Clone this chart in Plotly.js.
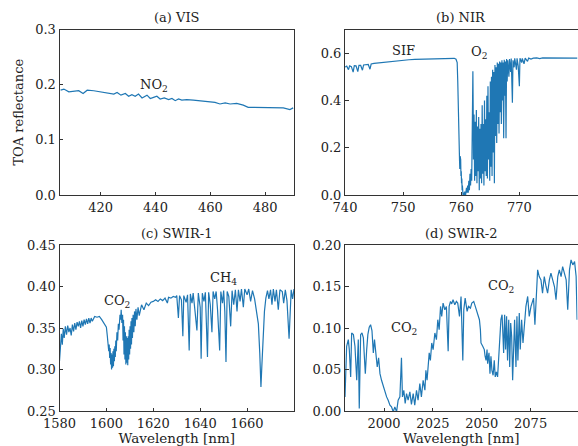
<!DOCTYPE html>
<html>
<head>
<meta charset="utf-8">
<script src="https://cdn.plot.ly/plotly-3.0.1.min.js"></script>
<style>html,body{margin:0;padding:0;background:#fff;}#chart{width:578px;height:446px;}</style>
</head>
<body>
<div id="chart"></div>
<script>
// ---------- data ----------
const visWl = [405.4,406.6,408.4,410.2,412.0,413.6,415.1,417.5,419.9,422.3,424.8,426.0,427.4,429.0,430.2,431.4,432.6,433.8,435.1,436.9,438.1,439.3,440.5,441.7,443.2,444.8,446.0,447.2,448.4,449.6,451.4,453.8,456.3,458.1,459.9,461.7,463.5,465.4,467.2,469.6,472.0,473.8,475.7,478.1,479.9,481.7,484.2,486.6,489.0,490.2];
const visR  = [0.190,0.192,0.187,0.188,0.189,0.184,0.190,0.189,0.187,0.185,0.183,0.186,0.181,0.184,0.179,0.182,0.179,0.183,0.176,0.181,0.175,0.177,0.179,0.174,0.176,0.173,0.175,0.171,0.174,0.172,0.173,0.172,0.171,0.170,0.169,0.168,0.165,0.167,0.165,0.166,0.163,0.159,0.159,0.159,0.158,0.159,0.159,0.158,0.155,0.158];

const nirWl = [740.0,740.3,740.6,740.8,741.1,741.4,741.6,741.9,742.2,742.4,742.7,743.0,743.2,743.6,744.0,744.3,744.5,745,746,747,748,749,750,751,752,753,754,755,756,757,758,758.8,759.1,759.3,759.4,759.5,759.6,759.7,759.75,759.8,759.85,759.9,759.95,760.0,760.05,760.1,760.15,760.2,760.3,760.4,760.5,760.6,760.7,760.8,760.9,761.0,761.1,761.2,761.3,761.4,761.5,761.6,761.7,761.8,761.9,762.0,762.05,762.1,762.2,762.3,762.4,762.5,762.6,762.7,762.8,762.9,763.0,763.1,763.2,763.3,763.4,763.5,763.6,763.7,763.8,763.9,764.0,764.1,764.2,764.3,764.4,764.5,764.6,764.7,764.8,764.9,765.0,765.1,765.2,765.3,765.4,765.5,765.6,765.7,765.8,765.9,766.0,766.1,766.2,766.3,766.4,766.5,766.6,766.7,766.8,766.9,767.0,767.1,767.2,767.3,767.4,767.5,767.6,767.7,767.8,767.9,768.0,768.2,768.3,768.5,768.6,768.8,768.9,769.1,769.2,769.5,769.6,769.8,770.0,770.1,770.4,770.5,770.8,771.0,771.4,771.6,772.0,772.4,773.0,773.5,774,775,776,777,778,779,780];
const nirR  = [0.541,0.545,0.530,0.546,0.543,0.520,0.547,0.546,0.522,0.548,0.548,0.528,0.550,0.551,0.552,0.532,0.554,0.557,0.560,0.563,0.566,0.568,0.570,0.572,0.574,0.575,0.576,0.577,0.578,0.578,0.579,0.578,0.574,0.560,0.480,0.300,0.170,0.150,0.110,0.165,0.120,0.150,0.080,0.100,0.050,0.070,0.020,0.040,0.000,0.010,-0.010,0.015,-0.010,0.005,0.030,0.010,0.040,0.010,0.060,0.020,0.090,0.040,0.110,0.060,0.200,0.523,0.380,0.150,0.340,0.060,0.310,0.080,0.360,0.050,0.290,0.100,0.330,0.020,0.280,0.070,0.300,0.050,0.380,0.090,0.300,0.040,0.400,0.100,0.320,0.080,0.420,0.070,0.460,0.150,0.350,0.060,0.480,0.120,0.500,0.080,0.530,0.180,0.520,0.050,0.550,0.250,0.540,0.220,0.560,0.300,0.555,0.260,0.565,0.350,0.560,0.300,0.570,0.400,0.560,0.240,0.572,0.420,0.565,0.240,0.575,0.480,0.570,0.500,0.575,0.520,0.577,0.390,0.570,0.540,0.578,0.530,0.578,0.545,0.460,0.578,0.560,0.578,0.555,0.579,0.565,0.579,0.575,0.579,0.580,0.577,0.580,0.580,0.579,0.580,0.580,0.579,0.579];

const swir1Wl = [1580.0,1580.4,1580.8,1581.2,1581.6,1582.0,1582.5,1583.0,1583.5,1584.0,1584.5,1585.0,1585.5,1586.0,1586.5,1587.0,1587.5,1588.0,1588.5,1589.0,1589.5,1590.0,1590.5,1591.0,1591.5,1592.0,1592.5,1593.0,1593.5,1594.0,1595.0,1596.0,1597.0,1598.0,1599.0,
  1600.0,1600.4,1600.7,1601.0,1601.2,1601.4,1601.6,1601.8,1602.0,1602.2,1602.4,1602.6,1602.8,1603.0,1603.2,1603.4,1603.6,1603.8,1604.0,1604.2,1604.5,1604.8,1605.1,1605.4,1605.8,1606.1,1606.3,1606.6,1606.9,1607.1,1607.3,1607.5,1607.7,1607.9,1608.1,1608.3,1608.5,1608.7,1608.9,1609.1,1609.3,1609.5,1609.7,1609.9,1610.1,1610.3,1610.5,1610.7,1610.9,1611.1,1611.4,1611.7,1612.0,1612.3,1612.6,1613.0,1613.5,1614.0,
  1615.0,1616.0,1617.0,1618.0,1619.0,1620.0,1621.0,1622.0,1623.0,1624.0,1625.0,1626.0,1626.5,1627.5,1628.5,1629.5,1630.0,1630.7,1631.2,1632.0,1632.6,1633.0,1634.0,1634.6,1635.3,1635.8,1636.5,1637.0,1637.8,1638.6,1639.2,1640.0,1640.4,1640.9,1641.6,1642.2,1643.1,1643.6,1644.3,1645.0,1645.5,1646.2,1646.8,1647.4,1648.3,1648.8,1649.5,1650.0,1650.5,1651.0,1651.5,1652.2,1653.0,1653.6,1654.3,1655.0,1655.7,1656.3,1657.0,1657.6,1658.4,1659.0,1660.0,1660.7,1661.5,1662.3,1663.2,1664.0,1664.8,1665.4,1665.9,1666.3,1666.8,1667.4,1668.0,1668.7,1669.3,1670.0,1670.6,1671.2,1671.9,1672.5,1673.3,1674.0,1675.0,1675.6,1676.3,1677.0,1677.9,1678.3,1678.8,1679.4,1680.0];
const swir1R  = [0.310,0.327,0.343,0.330,0.349,0.338,0.352,0.342,0.353,0.345,0.350,0.341,0.354,0.346,0.356,0.348,0.357,0.352,0.358,0.350,0.359,0.352,0.360,0.354,0.361,0.355,0.362,0.356,0.362,0.358,0.364,0.363,0.364,0.360,0.356,
  0.351,0.340,0.333,0.322,0.330,0.314,0.326,0.306,0.320,0.300,0.318,0.302,0.322,0.304,0.325,0.310,0.328,0.315,0.335,0.322,0.345,0.335,0.355,0.348,0.366,0.360,0.372,0.356,0.366,0.335,0.360,0.318,0.352,0.312,0.345,0.306,0.340,0.308,0.338,0.305,0.340,0.312,0.348,0.318,0.352,0.325,0.358,0.330,0.362,0.338,0.366,0.345,0.370,0.352,0.373,0.360,0.375,0.365,
  0.378,0.372,0.380,0.377,0.381,0.382,0.384,0.382,0.385,0.383,0.386,0.380,0.387,0.386,0.388,0.387,0.389,0.362,0.389,0.384,0.340,0.389,0.381,0.390,0.323,0.391,0.380,0.392,0.370,0.347,0.392,0.375,0.313,0.392,0.382,0.393,0.315,0.393,0.378,0.345,0.394,0.385,0.394,0.372,0.323,0.394,0.380,0.395,0.370,0.309,0.394,0.388,0.352,0.395,0.378,0.396,0.370,0.396,0.382,0.397,0.375,0.397,0.390,0.397,0.382,0.395,0.385,0.372,0.355,0.320,0.279,0.305,0.335,0.370,0.386,0.395,0.385,0.396,0.378,0.397,0.382,0.396,0.372,0.396,0.394,0.380,0.396,0.383,0.337,0.375,0.396,0.385,0.397];

const swir2Wl = [1980.0,1980.85,1981.7,1982.2,1982.9,1983.4,1984.3,1985.1,1986.0,1986.8,1987.3,1988.0,1988.7,1989.4,1989.9,1990.4,1991.1,1991.7,1992.4,1993.1,1993.8,1994.5,1995.1,1995.8,1996.5,1997.2,1997.9,1998.7,1999.6,2000.4,2001.3,2002.1,2003.0,2003.8,2004.7,2005.5,2006.4,2007.2,2008.1,2008.9,2009.4,2010.1,2010.8,2011.5,2012.3,2013.2,2014.0,2014.9,2015.7,2016.6,2017.4,2018.3,2019.1,2020.0,2020.9,2021.4,2022.0,2023.1,2023.7,2024.4,2025.1,2026.0,2026.8,2027.5,2028.2,2028.9,2029.5,2030.2,2031.1,2031.9,2032.8,2033.3,2034.0,2034.6,2035.3,2036.2,2037.0,2037.7,2038.6,2039.4,2040.3,2040.8,2041.5,2042.5,2043.2,2044.2,2044.9,2045.9,2046.6,2047.6,2048.3,2048.8,2049.3,2049.6,2050.5,2051.3,2051.7,2052.2,2052.7,2053.0,2053.7,2054.2,2054.7,2055.2,2055.8,2056.4,2056.9,2057.5,2058.1,2058.7,2059.2,2059.8,2060.4,2060.9,2061.2,2061.7,2062.2,2062.7,2063.2,2063.8,2064.3,2064.8,2065.3,2065.8,2066.3,2066.8,2067.5,2068.0,2068.5,2069.2,2069.7,2070.4,2071.1,2071.8,2072.6,2073.5,2074.3,2075.2,2076.5,2077.2,2077.9,2078.6,2079.4,2080.3,2081.1,2082.0,2082.9,2083.7,2084.6,2085.4,2086.3,2087.2,2088.0,2088.9,2089.7,2090.6,2091.4,2092.3,2093.2,2094.0,2094.9,2095.7,2096.6,2097.5,2098.3,2098.8];
const swir2R  = [0.017,0.078,0.086,0.074,0.041,0.094,0.092,0.078,0.037,0.086,0.003,0.092,0.094,0.088,0.066,0.045,0.074,0.092,0.101,0.104,0.097,0.070,0.086,0.072,0.053,0.064,0.045,0.037,0.029,0.023,0.017,0.013,0.007,0.005,-0.001,0.005,-0.001,0.013,0.017,0.064,0.017,0.025,0.009,0.021,0.013,0.023,0.008,0.021,0.007,0.025,0.013,0.033,0.017,0.037,0.025,0.049,0.037,0.070,0.061,0.082,0.074,0.094,0.086,0.110,0.098,0.126,0.114,0.130,0.122,0.126,0.072,0.126,0.132,0.129,0.134,0.128,0.132,0.130,0.114,0.138,0.061,0.122,0.136,0.120,0.126,0.124,0.130,0.132,0.126,0.120,0.114,0.110,0.098,0.082,0.078,0.074,0.066,0.061,0.074,0.057,0.070,0.045,0.066,0.049,0.043,0.061,0.041,0.047,0.041,0.070,0.090,0.110,0.116,0.086,0.070,0.116,0.074,0.114,0.061,0.110,0.053,0.106,0.090,0.037,0.086,0.110,0.053,0.114,0.061,0.118,0.074,0.110,0.082,0.102,0.126,0.138,0.114,0.126,0.136,0.104,0.136,0.170,0.162,0.158,0.142,0.162,0.150,0.142,0.158,0.166,0.158,0.150,0.134,0.162,0.170,0.162,0.174,0.166,0.158,0.122,0.170,0.182,0.176,0.180,0.162,0.110];

const panelTitles = ["(a) VIS", "(b) NIR", "(c) SWIR-1", "(d) SWIR-2"];
const visTicks = [420, 440, 460, 480];
const nirTicks = [740, 750, 760, 770];
const swir1Ticks = [1580, 1600, 1620, 1640, 1660];
const swir2Ticks = [2000, 2025, 2050, 2075];
const visYTicks = [0, 0.1, 0.2, 0.3];
const nirYTicks = [0, 0.2, 0.4, 0.6];
const swir1YTicks = [0.25, 0.30, 0.35, 0.40, 0.45];
const swir2YTicks = [0, 0.05, 0.10, 0.15, 0.20];
const gasLabels = [
  {text: "NO<sub>2</sub>", x: 439.5, y: 0.198, ax: 1},
  {text: "SIF", x: 750, y: 0.611, ax: 2},
  {text: "O<sub>2</sub>", x: 763, y: 0.603, ax: 2},
  {text: "CO<sub>2</sub>", x: 1604.6, y: 0.3825, ax: 3},
  {text: "CH<sub>4</sub>", x: 1650, y: 0.410, ax: 3},
  {text: "CO<sub>2</sub>", x: 2010, y: 0.100, ax: 4},
  {text: "CO<sub>2</sub>", x: 2060, y: 0.1506, ax: 4}
];

// ---------- chart ----------
const W = 578, H = 446;
const FONT = "DejaVu Serif";
const TXT = "#222222";
const lineStyle = {color: "#1f77b4", width: 1.2};

const traces = [
  {x: visWl, y: visR, xaxis: "x", yaxis: "y"},
  {x: nirWl, y: nirR, xaxis: "x2", yaxis: "y2"},
  {x: swir1Wl, y: swir1R, xaxis: "x3", yaxis: "y3"},
  {x: swir2Wl, y: swir2R, xaxis: "x4", yaxis: "y4"}
].map(t => Object.assign(t, {type: "scatter", mode: "lines", line: lineStyle, showlegend: false, hoverinfo: "skip"}));

function axisBase() {
  return {
    showline: true, mirror: true, linecolor: "#333333", linewidth: 1,
    ticks: "inside", ticklen: 3.5, tickwidth: 1, tickcolor: "#333333",
    showgrid: false, zeroline: false,
    tickfont: {family: FONT, size: 13, color: TXT}
  };
}
const px = v => v / W, py = v => 1 - v / H;
const leftDom = [px(59.5), px(294)], rightDom = [px(345), px(577.5)];
const topDom = [py(195), py(29.5)], botDom = [py(411), py(245)];

const layout = {
  width: W, height: H,
  margin: {l: 0, r: 0, t: 0, b: 0},
  paper_bgcolor: "#ffffff", plot_bgcolor: "#ffffff",
  font: {family: FONT, size: 13, color: TXT},
  xaxis:  Object.assign(axisBase(), {domain: leftDom,  range: [405, 490.5], tickvals: visTicks, anchor: "y"}),
  yaxis:  Object.assign(axisBase(), {domain: topDom,   range: [0, 0.3], tickvals: visYTicks, tickformat: ".1f", anchor: "x",
            title: {text: "TOA reflectance", font: {family: FONT, size: 13, color: TXT}, standoff: 8}}),
  xaxis2: Object.assign(axisBase(), {domain: rightDom, range: [740, 780], tickvals: nirTicks, anchor: "y2"}),
  yaxis2: Object.assign(axisBase(), {domain: topDom,   range: [0, 0.7], tickvals: nirYTicks, tickformat: ".1f", anchor: "x2"}),
  xaxis3: Object.assign(axisBase(), {domain: leftDom,  range: [1580, 1680], tickvals: swir1Ticks, anchor: "y3",
            title: {text: "Wavelength [nm]", font: {family: FONT, size: 13.5, color: TXT}, standoff: 4}}),
  yaxis3: Object.assign(axisBase(), {domain: botDom,   range: [0.25, 0.45], tickvals: swir1YTicks, tickformat: ".2f", anchor: "x3"}),
  xaxis4: Object.assign(axisBase(), {domain: rightDom, range: [1980, 2099], tickvals: swir2Ticks, anchor: "y4",
            title: {text: "Wavelength [nm]", font: {family: FONT, size: 13.5, color: TXT}, standoff: 4}}),
  yaxis4: Object.assign(axisBase(), {domain: botDom,   range: [0, 0.2], tickvals: swir2YTicks, tickformat: ".2f", anchor: "x4"}),
  annotations: []
};

const titlePos = [
  [ (leftDom[0]+leftDom[1])/2, py(17.5) ],
  [ (rightDom[0]+rightDom[1])/2, py(17.5) ],
  [ (leftDom[0]+leftDom[1])/2, py(234) ],
  [ (rightDom[0]+rightDom[1])/2, py(234) ]
];
panelTitles.forEach((t, i) => {
  layout.annotations.push({text: t, xref: "paper", yref: "paper", x: titlePos[i][0], y: titlePos[i][1],
    xanchor: "center", yanchor: "middle", showarrow: false, font: {family: FONT, size: 13, color: TXT}});
});
gasLabels.forEach(g => {
  const s = g.ax === 1 ? "" : String(g.ax);
  layout.annotations.push({text: g.text, xref: "x" + s, yref: "y" + s, x: g.x, y: g.y,
    xanchor: "center", yanchor: "middle", showarrow: false, font: {family: FONT, size: 13, color: TXT}});
});

Plotly.newPlot("chart", traces, layout, {staticPlot: true, displayModeBar: false});
</script>
</body>
</html>
